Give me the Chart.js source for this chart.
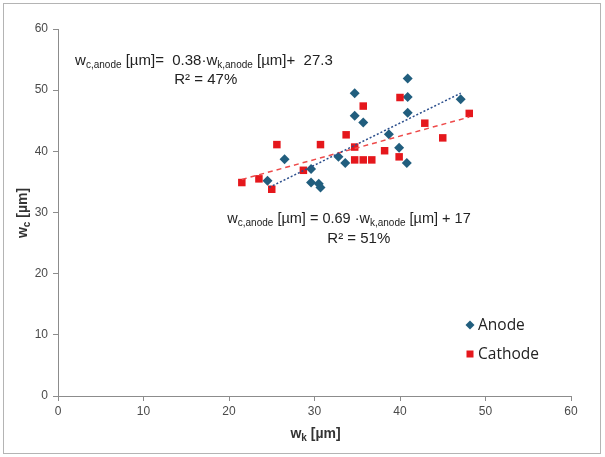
<!DOCTYPE html>
<html>
<head>
<meta charset="utf-8">
<script src="https://cdn.jsdelivr.net/npm/chart.js@4/dist/chart.umd.min.js"></script>
<style>
html,body{margin:0;padding:0;background:#fff;}
canvas{display:block;}
</style>
</head>
<body>
<canvas id="c" width="605" height="457"></canvas>
<script>
// Data
const anodeX = [40.9, 40.9, 40.9, 34.7, 34.7, 35.7, 38.7, 39.9, 40.8, 32.8, 33.6, 26.5, 29.6, 29.6, 30.5, 30.7, 24.5, 47.1];
const anodeY = [51.9, 48.9, 46.3, 49.5, 45.8, 44.7, 42.8, 40.6, 38.1, 39.1, 38.1, 38.7, 37.1, 34.9, 34.7, 34.1, 35.2, 48.5];
const cathodeX = [40.0, 35.7, 42.9, 48.1, 45.0, 33.7, 34.7, 38.2, 39.9, 34.7, 35.7, 36.7, 25.6, 30.7, 28.7, 23.5, 21.5, 25.0];
const cathodeY = [48.8, 47.4, 44.6, 46.2, 42.2, 42.7, 40.7, 40.1, 39.1, 38.6, 38.6, 38.6, 41.1, 41.1, 36.9, 35.5, 34.9, 33.8];
// Trend line end points
const anodeTrendX = [24.7, 47.1];
const anodeTrendY = [34.1, 49.5];
const cathodeTrendX = [21.5, 48.1];
const cathodeTrendY = [35.4, 45.6];
// Axis ticks
const xTicks = [0, 10, 20, 30, 40, 50, 60];
const yTicks = [0, 10, 20, 30, 40, 50, 60];
const seriesNames = ['Anode', 'Cathode'];

const zip = (xs, ys) => xs.map((x, i) => ({x: x, y: ys[i]}));

const ANODE = '#215E7E';
const CATHODE = '#E5171C';
const FONT = '"Liberation Sans", Arial, sans-serif';

function drawRich(ctx, parts, x, y, size) {
  let cx = x;
  for (const p of parts) {
    const fs = p.sub ? Math.round(size * 0.68) : size;
    ctx.font = (p.bold ? 'bold ' : '') + fs + 'px ' + FONT;
    const dy = p.sub ? size * 0.22 : (p.sup ? -size * 0.35 : 0);
    ctx.fillText(p.t, cx, y + dy);
    cx += ctx.measureText(p.t).width;
  }
  return cx - x;
}
function richWidth(ctx, parts, size) {
  let w = 0;
  for (const p of parts) {
    const fs = p.sub ? Math.round(size * 0.68) : size;
    ctx.font = (p.bold ? 'bold ' : '') + fs + 'px ' + FONT;
    w += ctx.measureText(p.t).width;
  }
  return w;
}

const overlay = {
  id: 'overlay',
  beforeDraw(chart) {
    const ctx = chart.ctx;
    ctx.save();
    ctx.fillStyle = '#fff';
    ctx.fillRect(0, 0, chart.width, chart.height);
    ctx.strokeStyle = '#b4b4b4';
    ctx.lineWidth = 1;
    ctx.strokeRect(3.5, 3.5, 597, 450);
    ctx.restore();
  },
  afterDraw(chart) {
    const ctx = chart.ctx;
    const xs = chart.scales.x, ys = chart.scales.y;
    ctx.save();
    ctx.fillStyle = '#222';
    ctx.textBaseline = 'alphabetic';
    ctx.textAlign = 'left';
    // Equation 1
    const eq1 = [
      {t: 'w'}, {t: 'c,anode', sub: true}, {t: ' [µm]=  0.38·w'}, {t: 'k,anode', sub: true}, {t: ' [µm]+  27.3'}
    ];
    drawRich(ctx, eq1, xs.getPixelForValue(2.0), ys.getPixelForValue(54.1), 15);
    ctx.font = '15px ' + FONT;
    ctx.fillText('R² = 47%', xs.getPixelForValue(13.6), ys.getPixelForValue(51.0));
    // Equation 2
    const eq2 = [
      {t: 'w'}, {t: 'c,anode', sub: true}, {t: ' [µm] = 0.69 ·w'}, {t: 'k,anode', sub: true}, {t: ' [µm] + 17'}
    ];
    drawRich(ctx, eq2, xs.getPixelForValue(19.8), ys.getPixelForValue(28.3), 14.5);
    ctx.font = '15px ' + FONT;
    ctx.fillText('R² = 51%', xs.getPixelForValue(31.5), ys.getPixelForValue(25.0));

    // Axis titles
    ctx.fillStyle = '#333';
    const xt = [{t: 'w', bold: true}, {t: 'k', sub: true, bold: true}, {t: ' [µm]', bold: true}];
    const xw = richWidth(ctx, xt, 14);
    drawRich(ctx, xt, (xs.left + xs.right) / 2 - xw / 2 + 1, 438, 14);
    const yt = [{t: 'w', bold: true}, {t: 'c', sub: true, bold: true}, {t: ' [µm]', bold: true}];
    const yw = richWidth(ctx, yt, 14);
    ctx.translate(27, 213);
    ctx.rotate(-Math.PI / 2);
    drawRich(ctx, yt, -yw / 2, 0, 14);
    ctx.restore();

    // Legend
    ctx.save();
    const lx = 470;
    const ly = [325, 354];
    ctx.fillStyle = ANODE;
    ctx.beginPath();
    ctx.moveTo(lx, ly[0] - 4.5); ctx.lineTo(lx + 4.5, ly[0]); ctx.lineTo(lx, ly[0] + 4.5); ctx.lineTo(lx - 4.5, ly[0]);
    ctx.closePath(); ctx.fill();
    ctx.fillStyle = CATHODE;
    ctx.fillRect(lx - 3.5, ly[1] - 3.5, 7, 7);
    ctx.fillStyle = '#222';
    ctx.font = '15.5px "Open Sans", ' + FONT;
    ctx.textBaseline = 'middle';
    ctx.fillText(seriesNames[0], lx + 8, ly[0] + 1);
    ctx.fillText(seriesNames[1], lx + 8, ly[1] + 1);
    ctx.restore();
  }
};

const axisCommon = {
  type: 'linear',
  min: 0, max: 60,
  grid: {display: true, drawOnChartArea: false, drawTicks: true, tickLength: 5, color: '#8c8c8c'},
  border: {display: true, color: '#8c8c8c', width: 1},
};

new Chart(document.getElementById('c'), {
  type: 'scatter',
  data: {
    datasets: [
      {label: seriesNames[0], data: zip(anodeX, anodeY), pointStyle: 'rectRot', pointRadius: 5, pointHoverRadius: 5,
       backgroundColor: ANODE, borderColor: ANODE, borderWidth: 0, order: 2},
      {label: seriesNames[1], data: zip(cathodeX, cathodeY), pointStyle: 'rect', pointRadius: 5.3, pointHoverRadius: 5.3,
       backgroundColor: CATHODE, borderColor: CATHODE, borderWidth: 0, order: 1},
      {type: 'line', label: 'anodeTrend', data: zip(anodeTrendX, anodeTrendY), showLine: true, pointRadius: 0,
       borderColor: '#2B4E8C', borderWidth: 1.5, borderDash: [2, 2], fill: false, order: 0},
      {type: 'line', label: 'cathodeTrend', data: zip(cathodeTrendX, cathodeTrendY), showLine: true, pointRadius: 0,
       borderColor: '#EE4A4A', borderWidth: 1.5, borderDash: [5, 4], fill: false, order: 0}
    ]
  },
  options: {
    responsive: false,
    animation: false,
    events: [],
    layout: {padding: {top: 29, right: 34, bottom: 0, left: 0}},
    plugins: {legend: {display: false}, tooltip: {enabled: false}},
    scales: {
      x: Object.assign({}, axisCommon, {
        position: 'bottom',
        afterBuildTicks: s => { s.ticks = xTicks.map(v => ({value: v})); },
        ticks: {color: '#4a4a4a', font: {family: FONT, size: 12}, padding: 3, maxRotation: 0},
        afterFit: s => { s.height = 61; }
      }),
      y: Object.assign({}, axisCommon, {
        position: 'left',
        afterBuildTicks: s => { s.ticks = yTicks.map(v => ({value: v})); },
        ticks: {color: '#4a4a4a', font: {family: FONT, size: 12}, padding: 5},
        afterFit: s => { s.width = 58; }
      })
    }
  },
  plugins: [overlay]
});
</script>
</body>
</html>
